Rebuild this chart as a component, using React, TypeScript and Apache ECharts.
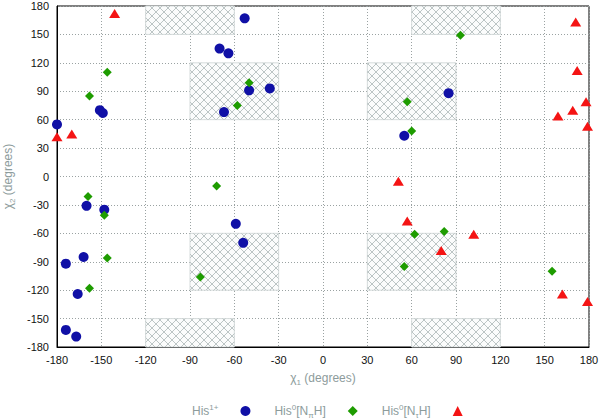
import React, { useEffect, useRef } from "react";
import * as echarts from "echarts";

// chi1, chi2 pairs (degrees)
const his1Points: number[][] = [
  [-53, 167], [-70, 135], [-64, 130], [-50, 91], [-36, 93], [-67, 68],
  [-180, 55], [-151, 70], [-149, 67], [-160, -31], [-148, -35],
  [-59, -50], [-54, -70], [-162, -85], [-174, -92], [-166, -124],
  [-174, -162], [-167, -169], [85, 88], [55, 43],
];
const hisPiPoints: number[][] = [
  [-146, 110], [-158, 85], [-50, 99], [-58, 75], [-72, -10], [-159, -21],
  [-148, -41], [-146, -86], [-158, -118], [-83, -106], [93, 149], [57, 79],
  [60, 48], [62, -61], [82, -58], [55, -95], [155, -100],
];
const hisTauPoints: number[][] = [
  [-141, 172], [-180, 42], [-170, 45], [171, 163], [172, 112], [178, 79],
  [169, 70], [159, 64], [179, 53], [51, -5], [57, -47], [102, -61],
  [80, -78], [162, -124], [179, -132],
];
// hatched regions: [x0, x1, y0, y1]
const hatchRegions: number[][] = [
  [-120, -60, 150, 180], [-90, -30, 60, 120], [30, 90, 60, 120], [60, 120, 150, 180],
  [-90, -30, -120, -60], [30, 90, -120, -60], [-120, -60, -180, -150], [60, 120, -180, -150],
];
const axisTicks = { min: -180, max: 180, interval: 30 };
const seriesNames = ["His1+", "His0[NpiH]", "His0[NtauH]"];
const legendLabels: Record<string, string> = {
  "His1+": "His{sup|1+}",
  "His0[NpiH]": "His{sup|0}[N{sub|π}H]",
  "His0[NtauH]": "His{sup|0}[N{sub|τ}H]",
};

const FONT = "Liberation Sans, Arial, sans-serif";
const GRAY = "#8d9c9c";

function renderHatch(params: any, api: any) {
  const x0 = api.value(0), x1 = api.value(1), y0 = api.value(2), y1 = api.value(3);
  const pA = api.coord([x0, y1]);
  const pB = api.coord([x1, y0]);
  const X0 = pA[0], Y0 = pA[1], X1 = pB[0], Y1 = pB[1];
  const s = 8;
  const children: any[] = [
    {
      type: "rect",
      shape: { x: X0, y: Y0, width: X1 - X0, height: Y1 - Y0 },
      style: { fill: "#fbfcfc", stroke: "#d6dcdc", lineWidth: 1 },
    },
  ];
  const lineStyle = { stroke: "#bcc5c5", lineWidth: 1 };
  // y = x + c
  for (let c = Math.floor((Y0 - X1) / s) * s; c <= Y1 - X0; c += s) {
    const xa = Math.max(X0, Y0 - c), xb = Math.min(X1, Y1 - c);
    if (xb > xa) children.push({ type: "line", shape: { x1: xa, y1: xa + c, x2: xb, y2: xb + c }, style: lineStyle });
  }
  // y = -x + c
  for (let c = Math.floor((X0 + Y0) / s) * s; c <= X1 + Y1; c += s) {
    const xa = Math.max(X0, c - Y1), xb = Math.min(X1, c - Y0);
    if (xb > xa) children.push({ type: "line", shape: { x1: xa, y1: c - xa, x2: xb, y2: c - xb }, style: lineStyle });
  }
  return { type: "group", children };
}

export default function App() {
  const ref = useRef<HTMLDivElement>(null);
  useEffect(() => {
    if (!ref.current) return;
    const chart = echarts.init(ref.current, undefined, { renderer: "svg" });
    const axisCommon = {
      type: "value" as const,
      min: axisTicks.min,
      max: axisTicks.max,
      interval: axisTicks.interval,
      axisLine: { show: true, onZero: false, lineStyle: { color: "#000", width: 1 } },
      axisTick: { show: false },
      splitLine: { show: true, lineStyle: { color: "#9aa2a2", type: [1, 2] as any, width: 1 } },
      nameLocation: "middle" as const,
    };
    chart.setOption({
      animation: false,
      backgroundColor: "#fff",
      grid: {
        left: 57, right: 13, top: 6, bottom: 72,
        containLabel: false, outerBoundsMode: "none",
        show: true, borderColor: "#000", borderWidth: 1, backgroundColor: "transparent",
      },
      xAxis: {
        ...axisCommon,
        axisLabel: { color: "#111", fontSize: 11, fontFamily: FONT, margin: 7 },
        name: "χ{sub|1} (degrees)",
        nameGap: 23,
        nameTextStyle: {
          color: GRAY, fontSize: 12, fontFamily: FONT, lineHeight: 16,
          rich: { sub: { fontSize: 8, lineHeight: 8, verticalAlign: "bottom", color: GRAY, fontFamily: FONT } },
        },
      },
      yAxis: {
        ...axisCommon,
        axisLabel: { color: "#111", fontSize: 11, fontFamily: FONT, margin: 8 },
        name: "χ{sub|2} (degrees)",
        nameGap: 41,
        nameTextStyle: {
          color: GRAY, fontSize: 12, fontFamily: FONT, lineHeight: 16,
          rich: { sub: { fontSize: 8, lineHeight: 8, verticalAlign: "bottom", color: GRAY, fontFamily: FONT } },
        },
      },
      legend: {
        data: seriesNames,
        top: 398,
        left: 187,
        align: "right",
        itemWidth: 10,
        itemHeight: 10,
        itemGap: 24,
        formatter: (n: string) => legendLabels[n] || n,
        textStyle: {
          color: GRAY, fontSize: 12, fontFamily: FONT, lineHeight: 16,
          padding: [0, 17, 0, 0],
          rich: {
            sup: { fontSize: 8, lineHeight: 8, verticalAlign: "top", color: GRAY, fontFamily: FONT },
            sub: { fontSize: 8, lineHeight: 8, verticalAlign: "bottom", color: GRAY, fontFamily: FONT },
          },
        },
      },
      series: [
        {
          type: "custom",
          renderItem: renderHatch,
          data: hatchRegions,
          encode: { x: [0, 1], y: [2, 3] },
          silent: true,
          z: 1,
        },
        {
          name: seriesNames[0],
          type: "scatter",
          data: his1Points,
          symbol: "circle",
          symbolSize: 10,
          itemStyle: { color: "#1010a6", opacity: 1 },
          clip: false,
          z: 3,
        },
        {
          name: seriesNames[1],
          type: "scatter",
          data: hisPiPoints,
          symbol: "diamond",
          symbolSize: 9,
          itemStyle: { color: "#1e9c00", opacity: 1 },
          clip: false,
          z: 4,
        },
        {
          name: seriesNames[2],
          type: "scatter",
          data: hisTauPoints,
          symbol: "triangle",
          symbolSize: [11, 9],
          itemStyle: { color: "#f41414", opacity: 1 },
          clip: false,
          z: 5,
        },
      ],
    });
    return () => chart.dispose();
  }, []);
  return <div ref={ref} style={{ width: 602, height: 419, position: "absolute", left: 0, top: 0 }} />;
}
